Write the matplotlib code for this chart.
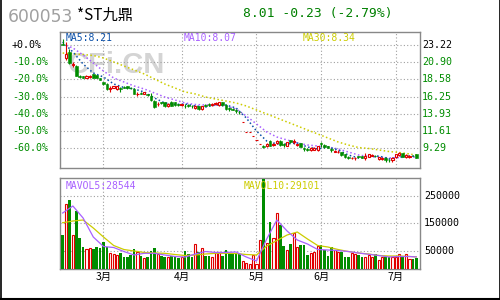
import matplotlib
matplotlib.use('Agg')
import matplotlib.pyplot as plt
from matplotlib.lines import Line2D
import numpy as np

# ---------------- data ----------------
stock_code = "600053"
stock_name = "*ST九鼎"
quote_text = "8.01 -0.23 (-2.79%)"
base_price = 23.22
pct_levels = [0, -10, -20, -30, -40, -50, -60]

open_ = [23.36,21.47,22.34,20.52,20.43,19.04,18.97,18.83,18.90,19.24,
 19.17,18.70,18.16,18.02,17.28,17.42,17.28,17.35,17.55,17.62,
 17.48,17.28,16.61,16.74,16.67,16.61,16.27,15.66,15.19,15.53,
 15.53,14.92,15.59,15.53,15.26,15.12,15.05,15.12,15.05,14.72,
 14.99,14.58,15.12,15.26,15.12,15.19,15.12,15.46,15.12,14.72,
 14.64,14.44,14.24,12.83,11.41,11.41,10.94,10.40,9.86,9.59,
 9.52,10.26,9.72,9.95,10.26,9.86,9.59,10.33,10.13,9.72,
 9.95,9.32,9.18,9.05,9.05,9.05,9.99,9.72,9.59,9.18,
 8.84,8.78,8.73,8.46,8.10,7.90,7.90,8.17,8.28,8.03,
 8.14,8.24,8.30,7.83,7.83,7.90,7.76,7.76,8.06,8.37,
 8.60,8.10,8.10,8.30,8.44]
high = [24.03,23.63,22.68,20.93,20.52,19.17,19.04,19.17,19.17,19.31,
 19.17,18.77,18.29,18.09,17.62,17.69,17.75,17.55,17.62,17.75,
 17.55,17.35,16.92,16.81,16.92,16.67,16.70,15.73,15.53,15.59,
 15.59,15.39,15.66,15.59,15.32,15.32,15.26,15.19,15.12,15.12,
 15.05,14.99,15.19,15.39,15.39,15.46,15.59,15.53,15.19,14.81,
 14.72,14.54,14.31,12.83,11.41,11.41,10.94,10.40,9.86,9.72,
 9.99,10.33,9.99,10.40,10.40,9.95,10.16,10.40,10.53,9.92,
 9.99,9.49,9.32,9.41,9.41,9.59,10.09,9.79,9.65,9.27,
 9.05,9.05,8.78,8.51,8.24,8.06,8.14,8.24,8.30,8.60,
 8.51,8.51,8.37,8.10,8.10,8.06,7.83,8.14,8.51,8.71,
 8.64,8.44,8.37,8.37,8.51]
low = [23.22,21.20,20.72,20.25,18.97,18.77,18.77,18.77,18.83,18.77,
 18.77,18.50,17.82,17.21,16.94,17.35,17.21,16.94,17.35,17.28,
 17.28,16.54,16.38,16.54,16.61,16.34,15.66,14.78,14.92,15.26,
 14.85,14.85,15.00,14.99,14.99,14.99,14.67,14.85,14.78,14.64,
 14.38,14.51,14.92,14.99,15.05,15.12,15.05,15.05,14.51,14.35,
 14.38,14.00,13.90,12.83,11.41,11.41,10.94,10.40,9.86,9.25,
 9.45,9.59,9.65,9.92,9.65,9.49,9.52,10.03,9.81,9.65,
 9.45,8.91,8.91,8.97,9.05,8.97,9.49,9.38,9.32,8.82,
 8.78,8.60,8.30,8.03,7.79,7.83,7.70,8.03,7.90,7.70,
 8.10,8.17,8.10,7.76,7.76,7.47,7.43,7.47,8.03,8.30,
 8.10,8.03,8.03,8.17,7.97]
close = [23.22,22.01,20.79,20.66,19.10,18.90,18.83,19.04,19.10,18.83,
 18.77,18.56,18.02,17.28,17.35,17.62,17.69,17.28,17.42,17.48,
 17.35,16.61,16.67,16.67,16.88,16.47,15.73,14.85,15.26,15.39,
 14.99,15.32,15.05,15.12,15.12,15.26,14.92,14.99,14.92,15.05,
 14.58,14.92,14.99,15.12,15.32,15.39,15.53,15.12,14.58,14.58,
 14.51,14.31,14.11,12.83,11.41,11.41,10.94,10.40,9.86,9.45,
 9.92,9.65,9.92,10.30,9.72,9.72,10.13,10.19,10.26,9.86,
 9.49,9.18,9.05,9.32,9.38,9.52,9.86,9.41,9.38,9.05,
 8.97,8.84,8.37,8.06,7.97,7.97,7.97,8.10,7.93,8.17,
 8.46,8.37,8.17,8.06,8.03,7.76,7.63,7.90,8.46,8.68,
 8.14,8.37,8.30,8.24,8.01]
volume = [107800,219700,234100,107800,194400,98000,64400,57200,59700,57200,
 63300,60000,83600,63300,44000,39200,34000,44000,29400,27200,
 35600,57200,47500,32000,25800,27200,50000,62000,38000,32000,
 27200,27200,32000,27200,23600,30000,51100,39200,27200,75300,
 47500,62000,32000,32000,29400,45300,45300,33000,53600,38000,
 44000,38000,40000,14000,7000,2000,35600,3000,89700,310000,
 80000,155800,96000,188000,143900,68000,53600,75300,116000,65500,
 71700,71700,35600,44000,47500,68000,71700,53600,32000,63000,
 53600,47500,47500,29400,29400,44000,38000,35600,27000,29400,
 35600,27000,39000,17500,29400,27000,27000,27000,27000,38000,
 29400,38000,20000,20000,23600]

ma_days = list(range(0, 103, 3)) + [104]
ma5 = [23.63,22.28,20.66,19.44,18.90,17.96,17.48,17.28,16.88,16.07,
 15.39,15.19,15.26,14.99,14.85,15.12,15.12,14.72,13.37,11.61,
 10.26,9.86,9.86,9.99,9.45,9.18,9.45,9.05,8.37,7.97,
 8.10,8.24,7.83,8.10,8.24,8.21]
ma10 = [23.36,22.82,21.87,20.79,19.71,18.77,18.23,17.69,17.28,16.74,
 16.20,15.80,15.39,15.19,15.12,15.12,14.99,14.58,13.64,12.56,
 11.48,10.80,10.40,9.99,9.72,9.59,9.45,9.18,8.78,8.37,
 8.17,8.10,7.97,8.03,8.10,8.07]
ma30 = [22.14,22.01,21.94,21.80,21.47,20.93,20.39,19.85,19.31,18.63,
 17.96,17.42,16.88,16.61,16.20,15.93,15.66,15.39,14.99,14.45,
 13.91,13.37,12.83,12.29,11.75,11.21,10.67,10.13,9.72,9.38,
 9.25,9.05,8.84,8.71,8.51,8.34]
mavol5 = [187180,212450,169130,100540,66245,62635,48195,35560,41700,41700,
 35560,30145,28340,39170,48195,44585,44585,46390,28340,13900,
 93320,161910,122200,89710,75270,55415,53610,51805,48195,42780,
 38090,33755,28340,30145,30145,28544]
mavol10 = [152160,158300,161910,133030,100540,69855,55415,50000,44585,42780,
 41700,37365,33755,35560,39170,41700,41700,40975,37365,35560,
 68050,87905,107760,118590,93320,69855,64440,55415,48195,42780,
 39170,33755,31950,31950,30145,29101]

month_days = [12, 35, 57, 76, 98]
month_labels = ["3月", "4月", "5月", "6月", "7月"]
vol_ticks = [250000, 150000, 50000]

# ---------------- style ----------------
RED = '#e00000'
GREEN = '#008c00'
BLUE = '#0a4fa8'
PURPLE = '#a860ff'
YELLOW = '#cccc00'
FRAME = '#888888'
GRID = '#a0a0a0'
MONO = 'DejaVu Sans Mono'
CJK = ['Noto Sans CJK SC', 'DejaVu Sans']

o = np.array(open_); h = np.array(high); l = np.array(low); c = np.array(close)
v = np.array(volume, dtype=float)
idx = np.arange(len(c))
up = c >= o

fig = plt.figure(figsize=(5, 3), dpi=100)
fig.patch.set_facecolor('white')
axp = fig.add_axes([0.12, 0.44, 0.72, 0.4533])
axv = fig.add_axes([0.12, 0.1033, 0.72, 0.3024])

xlim = (-0.79, 105.09)
for ax in (axp, axv):
    ax.set_xlim(*xlim)
    ax.set_xticks([]); ax.set_yticks([])
    for s in ax.spines.values():
        s.set_color(FRAME); s.set_linewidth(1.0)
    for d in month_days:
        ax.axvline(d, color=GRID, lw=0.8, ls=(0, (1, 2)), zorder=1)

# ----- price panel -----
axp.set_ylim(6.615, 24.975)
levels = [base_price * (1 + p / 100.0) for p in pct_levels]
for lv in levels:
    axp.axhline(lv, color=GRID, lw=0.8, ls=(0, (1, 2)), zorder=1)

axp.text(0.158, 0.76, "CFi.CN", transform=axp.transAxes, ha='center', va='center',
         fontsize=21, fontweight='bold', family='Liberation Sans', color='#d4d4d4', zorder=0.5)

axp.plot(ma_days, ma30, color=YELLOW, lw=1.1, ls=(0, (1, 1.6)), zorder=2)
axp.plot(ma_days, ma10, color=PURPLE, lw=1.1, ls=(0, (1, 1.6)), zorder=2)
axp.plot(ma_days, ma5, color=BLUE, lw=1.1, ls=(0, (1, 1.6)), zorder=2)

cols = [RED if u else GREEN for u in up]
axp.vlines(idx, l, h, colors=cols, lw=0.8, zorder=3)
bot = np.minimum(o, c)
hgt = np.maximum(np.abs(c - o), 0.05)
axp.bar(idx[~up], hgt[~up], bottom=bot[~up], width=0.75, color=GREEN,
        edgecolor=GREEN, lw=0.4, zorder=4)
axp.bar(idx[up], hgt[up], bottom=bot[up], width=0.7, facecolor='white',
        edgecolor=RED, lw=0.8, zorder=4)

ytr = axp.get_yaxis_transform()
for p, lv in zip(pct_levels, levels):
    col = 'black' if p == 0 else GREEN
    axp.text(-0.1333, lv, f"{p:+.1f}%", transform=ytr, ha='left', va='center',
             family=MONO, fontsize=7.2, color=col)
    axp.text(1.0056, lv, f"{lv:.2f}", transform=ytr, ha='left', va='center',
             family=MONO, fontsize=7.2, color=col)

axp.text(0.0158, 0.956, f"MA5:{ma5[-1]:.2f}", transform=axp.transAxes, ha='left',
         va='center', family=MONO, fontsize=7, color=BLUE, zorder=6)
axp.text(0.344, 0.956, f"MA10:{ma10[-1]:.2f}", transform=axp.transAxes, ha='left',
         va='center', family=MONO, fontsize=7, color=PURPLE, zorder=6)
axp.text(0.675, 0.956, f"MA30:{ma30[-1]:.2f}", transform=axp.transAxes, ha='left',
         va='center', family=MONO, fontsize=7, color=YELLOW, zorder=6)

# ----- volume panel -----
vbot = -14980
axv.set_ylim(vbot, 312450)
for t in vol_ticks:
    axv.axhline(t, color=GRID, lw=0.8, ls=(0, (1, 2)), zorder=1)
axv.bar(idx[~up], v[~up] - vbot, bottom=vbot, width=0.75, color=GREEN, lw=0, zorder=3)
axv.bar(idx[up], v[up] - vbot, bottom=vbot, width=0.62, facecolor='white',
        edgecolor=RED, lw=0.8, zorder=3)
axv.plot(ma_days, mavol10, color=YELLOW, lw=0.9, zorder=4)
axv.plot(ma_days, mavol5, color=PURPLE, lw=0.9, zorder=4)

vtr = axv.get_yaxis_transform()
for t in vol_ticks:
    axv.text(1.011, t, f"{t}", transform=vtr, ha='left', va='center',
             family=MONO, fontsize=7.2, color='black')
axv.text(0.0158, 0.915, f"MAVOL5:{mavol5[-1]}", transform=axv.transAxes, ha='left',
         va='center', family=MONO, fontsize=7, color=PURPLE, zorder=6)
axv.text(0.511, 0.915, f"MAVOL10:{mavol10[-1]}", transform=axv.transAxes, ha='left',
         va='center', family=MONO, fontsize=7, color=YELLOW, zorder=6)

xtr = axv.get_xaxis_transform()
for d, lab in zip(month_days, month_labels):
    axv.text(d, -0.088, lab, transform=xtr, ha='center', va='center',
             family=CJK, fontsize=7.5, color='black')

# ----- header -----
fig.text(8 / 500, 1 - 16.5 / 300, stock_code, ha='left', va='center',
         family='DejaVu Sans', fontsize=12.3, color='#a0a0a0')
fig.text(77 / 500, 1 - 15.5 / 300, stock_name, ha='left', va='center',
         family=CJK, fontsize=11, color='black')
fig.text(243 / 500, 1 - 14 / 300, quote_text, ha='left', va='center',
         family=MONO, fontsize=9.4, color='#008000')

# outer frame (left, right, bottom)
fig.add_artist(Line2D([0.001, 0.001], [0, 1], transform=fig.transFigure, color='black', lw=1.2))
fig.add_artist(Line2D([0.999, 0.999], [0, 1], transform=fig.transFigure, color='black', lw=1.2))
fig.add_artist(Line2D([0, 1], [0.003, 0.003], transform=fig.transFigure, color='black', lw=1.5))

fig.savefig('out.png', dpi=100, facecolor='white')
